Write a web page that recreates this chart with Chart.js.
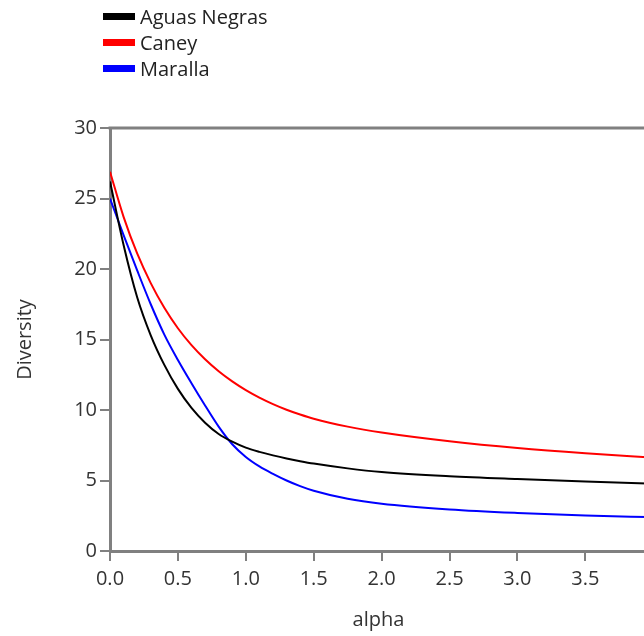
<!DOCTYPE html>
<html lang="en">
<head>
    <meta charset="UTF-8">
    <title>Diversity profiles</title>
    <script src="https://cdn.jsdelivr.net/npm/chart.js"></script>
    <style>
        body { margin: 0; overflow: hidden; background: #fff; font-family: "Open Sans", sans-serif; }
        #wrap { position: relative; width: 650px; height: 636px; }
        #legend { position: absolute; left: 103px; top: 3px; }
        .item { display: flex; align-items: center; height: 26px; font-size: 20px; color: #222; }
        .swatch { width: 32px; height: 7px; margin-right: 5px; }
    </style>
</head>
<body>
    <div id="wrap">
        <canvas id="divChart" width="650" height="636"></canvas>
        <div id="legend"></div>
    </div>
    <script>
        const alpha = [0, 0.1, 0.2, 0.3, 0.4, 0.5, 0.6, 0.7, 0.8, 0.9, 1.0, 1.1, 1.2, 1.3, 1.4, 1.5, 1.75, 2.0, 2.5, 3.0, 3.5, 4.0];
        const aguasNegras = [26.2, 21.7, 18.0, 15.3, 13.2, 11.5, 10.15, 9.1, 8.3, 7.75, 7.33, 7.03, 6.78, 6.56, 6.37, 6.2, 5.86, 5.6, 5.3, 5.1, 4.93, 4.78];
        const caney = [26.9, 23.7, 21.1, 19.0, 17.25, 15.8, 14.6, 13.6, 12.75, 12.03, 11.41, 10.88, 10.42, 10.02, 9.68, 9.38, 8.82, 8.4, 7.78, 7.3, 6.93, 6.63];
        const maralla = [25.0, 22.4, 19.9, 17.5, 15.35, 13.55, 11.9, 10.32, 8.82, 7.57, 6.67, 6.0, 5.47, 5.0, 4.6, 4.27, 3.7, 3.35, 2.95, 2.7, 2.52, 2.4];
        const seriesNames = ['Aguas Negras', 'Caney', 'Maralla'];
        const seriesColors = ['#000000', '#ff0000', '#0000ff'];
        const xTicks = [0, 0.5, 1.0, 1.5, 2.0, 2.5, 3.0, 3.5];
        const yTicks = [0, 5, 10, 15, 20, 25, 30];

        const fontFamily = '"Open Sans", sans-serif';
        const axisGray = '#808080';
        const textColor = '#333333';

        const toPoints = ys => alpha.map((a, i) => ({ x: a, y: ys[i] }));

        // top and right sides of the plot box
        const boxBorder = {
            id: 'boxBorder',
            beforeDatasetsDraw(chart) {
                const { ctx, chartArea: { left, top, right, bottom } } = chart;
                ctx.save();
                ctx.strokeStyle = axisGray;
                ctx.lineWidth = 3;
                ctx.beginPath();
                ctx.moveTo(left - 1.5, top);
                ctx.lineTo(right, top);
                ctx.lineTo(right, bottom);
                ctx.stroke();
                ctx.restore();
            }
        };

        const ctx = document.getElementById('divChart').getContext('2d');
        const divChart = new Chart(ctx, {
            type: 'line',
            data: {
                datasets: [aguasNegras, caney, maralla].map((ys, i) => ({
                    label: seriesNames[i],
                    data: toPoints(ys),
                    borderColor: seriesColors[i],
                    borderWidth: 2,
                    pointRadius: 0,
                    fill: false,
                    cubicInterpolationMode: 'monotone'
                }))
            },
            options: {
                responsive: false,
                animation: false,
                layout: { padding: { top: 128, right: 3, left: 0, bottom: 0 } },
                plugins: { legend: { display: false }, tooltip: { enabled: false } },
                scales: {
                    x: {
                        type: 'linear',
                        min: 0,
                        max: 3.954,
                        afterFit: s => { s.height = 85; },
                        afterBuildTicks: s => { s.ticks = xTicks.map(v => ({ value: v })); },
                        border: { color: axisGray, width: 3 },
                        grid: { drawOnChartArea: false, tickLength: 10, color: axisGray, lineWidth: 2 },
                        ticks: {
                            padding: 6,
                            maxRotation: 0,
                            color: textColor,
                            font: { family: fontFamily, size: 20 },
                            callback: v => Number(v).toFixed(1)
                        },
                        title: {
                            display: true,
                            text: 'alpha',
                            color: textColor,
                            font: { family: fontFamily, size: 20 },
                            padding: { top: 0, bottom: 4 }
                        }
                    },
                    y: {
                        min: 0,
                        max: 30,
                        afterFit: s => { s.width = 110; },
                        afterBuildTicks: s => { s.ticks = yTicks.map(v => ({ value: v })); },
                        border: { color: axisGray, width: 3 },
                        grid: { drawOnChartArea: false, tickLength: 10, color: axisGray, lineWidth: 2 },
                        ticks: {
                            padding: 3,
                            color: textColor,
                            font: { family: fontFamily, size: 20 }
                        },
                        title: {
                            display: true,
                            text: 'Diversity',
                            color: textColor,
                            font: { family: fontFamily, size: 20 },
                            padding: { top: 13, bottom: 0 }
                        }
                    }
                }
            },
            plugins: [boxBorder]
        });

        // legend stacked above the plot, built from the datasets
        const legend = document.getElementById('legend');
        divChart.data.datasets.forEach(ds => {
            const item = document.createElement('div');
            item.className = 'item';
            const sw = document.createElement('span');
            sw.className = 'swatch';
            sw.style.background = ds.borderColor;
            item.appendChild(sw);
            item.appendChild(document.createTextNode(ds.label));
            legend.appendChild(item);
        });
    </script>
</body>
</html>
